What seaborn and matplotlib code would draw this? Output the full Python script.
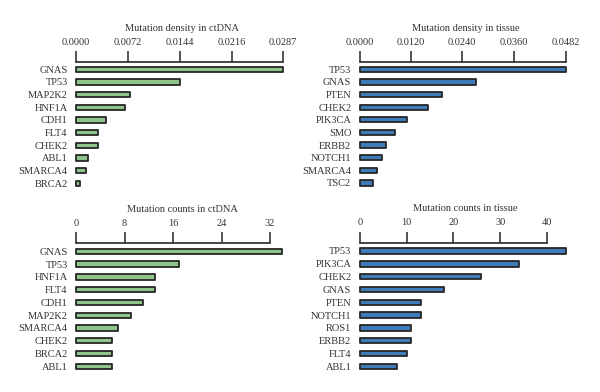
import matplotlib
matplotlib.use('Agg')
import matplotlib.pyplot as plt
import seaborn as sns
import pandas as pd

# data
ctdna_density_genes = ['GNAS', 'TP53', 'MAP2K2', 'HNF1A', 'CDH1', 'FLT4', 'CHEK2', 'ABL1', 'SMARCA4', 'BRCA2']
ctdna_density = [0.0287, 0.0144, 0.0075, 0.0068, 0.0042, 0.0031, 0.0031, 0.0017, 0.0014, 0.0006]
ctdna_density_ticks = [0.0, 0.0072, 0.0144, 0.0216, 0.0287]
ctdna_density_ticklabels = ['0.0000', '0.0072', '0.0144', '0.0216', '0.0287']

tissue_density_genes = ['TP53', 'GNAS', 'PTEN', 'CHEK2', 'PIK3CA', 'SMO', 'ERBB2', 'NOTCH1', 'SMARCA4', 'TSC2']
tissue_density = [0.0482, 0.0271, 0.0192, 0.0160, 0.0111, 0.0082, 0.0062, 0.0052, 0.0041, 0.0032]
tissue_density_ticks = [0.0, 0.012, 0.024, 0.036, 0.0482]
tissue_density_ticklabels = ['0.0000', '0.0120', '0.0240', '0.0360', '0.0482']

ctdna_count_genes = ['GNAS', 'TP53', 'HNF1A', 'FLT4', 'CDH1', 'MAP2K2', 'SMARCA4', 'CHEK2', 'BRCA2', 'ABL1']
ctdna_counts = [34, 17, 13, 13, 11, 9, 7, 6, 6, 6]
ctdna_count_ticks = [0, 8, 16, 24, 32]

tissue_count_genes = ['TP53', 'PIK3CA', 'CHEK2', 'GNAS', 'PTEN', 'NOTCH1', 'ROS1', 'ERBB2', 'FLT4', 'ABL1']
tissue_counts = [44, 34, 26, 18, 13, 13, 11, 11, 10, 8]
tissue_count_ticks = [0, 10, 20, 30, 40]

GREEN = '#8fc48a'
BLUE = '#3e7bb9'
EDGE = '#262626'
TEXT = '#333333'

sns.set_theme(style='white')
plt.rcParams['font.family'] = ['Liberation Serif', 'DejaVu Serif']

W, H = 600, 392
fig = plt.figure(figsize=(W / 100, H / 100), dpi=100)


def panel(left, px_per_unit, xmax, spine_y, first_y, last_y, genes, values,
          ticks, ticklabels, title, color):
    step = (last_y - first_y) / 9
    top_off = (first_y - spine_y) / step
    bottom_y = last_y + 0.8 * step
    width_px = px_per_unit * xmax
    ax = fig.add_axes([left / W, 1 - bottom_y / H, width_px / W, (bottom_y - spine_y) / H])
    df = pd.DataFrame({'gene': genes, 'value': values})
    sns.barplot(data=df, x='value', y='gene', orient='h', color=color,
                edgecolor=EDGE, linewidth=1.3, width=0.42, saturation=1, ax=ax)
    ax.set_xlim(0, xmax)
    ax.set_ylim(9.8, -top_off)
    for s in ['left', 'right', 'bottom']:
        ax.spines[s].set_visible(False)
    ax.spines['top'].set_bounds(ticks[0], ticks[-1])
    ax.spines['top'].set_linewidth(1.2)
    ax.spines['top'].set_color(EDGE)
    ax.xaxis.tick_top()
    ax.xaxis.set_label_position('top')
    ax.set_xticks(ticks)
    ax.set_xticklabels(ticklabels)
    ax.tick_params(axis='x', direction='out', length=8, width=1.1, color=EDGE,
                   pad=3, labelsize=7.5, labelcolor=TEXT)
    ax.tick_params(axis='y', length=0, pad=6, labelsize=7.5, labelcolor=TEXT)
    ax.set_xlabel(title, fontsize=7.5, color=TEXT, labelpad=5)
    ax.set_ylabel('')
    for bar in ax.patches:
        bar.set_clip_on(False)
        bar.set_joinstyle('round')
    return ax


panel(76, 207 / 0.0287, 0.0295, 62, 69.3, 183.3, ctdna_density_genes, ctdna_density,
      ctdna_density_ticks, ctdna_density_ticklabels, 'Mutation density in ctDNA', GREEN)
panel(359.7, 206 / 0.0482, 0.0495, 62, 69.3, 183.0, tissue_density_genes, tissue_density,
      tissue_density_ticks, tissue_density_ticklabels, 'Mutation density in tissue', BLUE)
panel(76, 194 / 32, 35, 243.3, 251.3, 366.3, ctdna_count_genes, ctdna_counts,
      ctdna_count_ticks, [str(t) for t in ctdna_count_ticks], 'Mutation counts in ctDNA', GREEN)
panel(359.7, 187.3 / 40, 45, 242.7, 251.0, 366.3, tissue_count_genes, tissue_counts,
      tissue_count_ticks, [str(t) for t in tissue_count_ticks], 'Mutation counts in tissue', BLUE)

fig.savefig('out.png', dpi=100)
